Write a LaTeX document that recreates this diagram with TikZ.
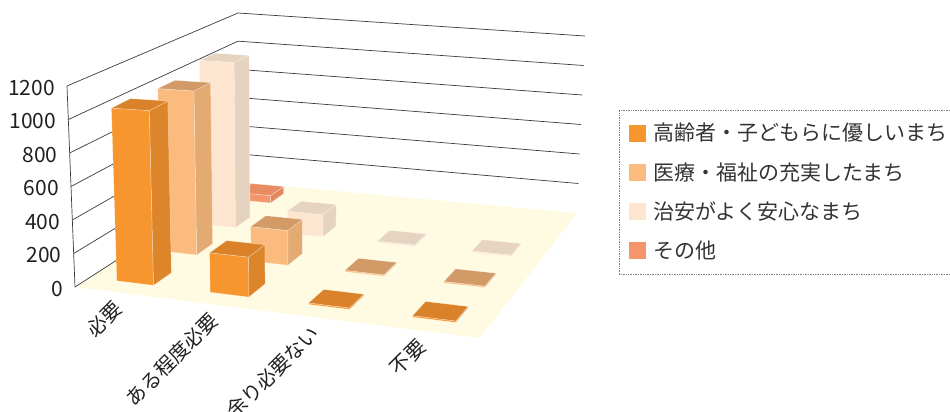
\documentclass[tikz,border=0pt]{standalone}
\usepackage{fontspec}
\setmainfont{Noto Sans CJK JP}
\usetikzlibrary{positioning,calc}

\definecolor{floorc}{HTML}{FFFBE3}
\definecolor{wallc}{HTML}{3A3A3A}
\definecolor{txt}{HTML}{231F20}
\definecolor{front1}{HTML}{F7962F}\definecolor{side1}{HTML}{DD852B}\definecolor{top1}{HTML}{D9822A}
\definecolor{front2}{HTML}{FBBB7E}\definecolor{side2}{HTML}{E3AB72}\definecolor{top2}{HTML}{D19A66}
\definecolor{front3}{HTML}{FEE5CF}\definecolor{side3}{HTML}{E5D2BF}\definecolor{top3}{HTML}{E6D3C0}
\definecolor{front4}{HTML}{F5956C}\definecolor{side4}{HTML}{E2875F}\definecolor{top4}{HTML}{E98B63}

% point of the floor (u,v) lifted by a value h, gives \px,\py
\newcommand\proj[3]{%
  \pgfmathsetmacro\pw{1-0.10431*(#1)+0.22454*(#2)}%
  \pgfmathsetmacro\px{(354.93*(#1)+216.44*(#2)+75)/\pw+(#3)/1200*(-8*(1-(#1))*(1-(#2))+7*(#1)*(1-(#2))+8*(#1)*(#2))}%
  \pgfmathsetmacro\py{(15.74*(#1)-64.13*(#2)+287)/\pw-(#3)/1200*(201*(1-(#1))*(1-(#2))+225*(#1)*(1-(#2))+177*(#1)*(#2)+169*(1-(#1))*(#2))}%
}
\newcommand\pc[4]{\proj{#2}{#3}{#4}\coordinate (#1) at (\px,\py);}

\begin{document}
\begin{tikzpicture}[x=1pt,y=-1pt,
    every node/.style={font=\fontsize{21}{24}\selectfont,text=txt,inner sep=0pt},
    face/.style={draw=white,draw opacity=.45,line width=.5pt,line join=round},
    grid/.style={wallc,line width=.7pt}]
  \useasboundingbox (0,0) rectangle (950,412);

  % floor
  \pc{f1}{0}{0}{0} \pc{f2}{1}{0}{0} \pc{f3}{1}{1}{0} \pc{f4}{0}{1}{0}
  \fill[floorc] (f1) -- (f2) -- (f3) -- (f4) -- cycle;

  % walls and value axis
  \foreach \lev in {0,200,...,1200}{
    \pc{l\lev}{0}{0}{\lev} \pc{b\lev}{0}{1}{\lev} \pc{r\lev}{1}{1}{\lev}
    \draw[grid] (l\lev) -- (b\lev);
    \ifnum\lev>0 \draw[grid] (b\lev) -- (r\lev); \fi
    \node[anchor=east] (y\lev) at ($(l\lev)+(-12,2)$) {\lev};
  }
  \draw[grid] (l0) -- (l1200);

  % bars, back row first
  \foreach \ser/\cat/\val in {4/1/50, 3/1/1070, 3/2/140, 3/3/8, 3/4/8,
      2/1/1015, 2/2/210, 2/3/8, 2/4/8, 1/1/1035, 1/2/230, 1/3/8, 1/4/8}{
    \pgfmathsetmacro\ua{(\cat-.5)/4-.05}
    \pgfmathsetmacro\ub{(\cat-.5)/4+.05}
    \pgfmathsetmacro\va{(\ser-.5)/4-.05}
    \pgfmathsetmacro\vb{(\ser-.5)/4+.05}
    \pc{A}{\ua}{\va}{0} \pc{B}{\ub}{\va}{0} \pc{C}{\ub}{\vb}{0}
    \pc{D}{\ua}{\va}{\val} \pc{E}{\ub}{\va}{\val}
    \pc{F}{\ub}{\vb}{\val} \pc{G}{\ua}{\vb}{\val}
    \filldraw[face,fill=front\ser] (A) -- (B) -- (E) -- (D) -- cycle;
    \filldraw[face,fill=side\ser] (B) -- (C) -- (F) -- (E) -- cycle;
    \filldraw[face,fill=top\ser] (D) -- (E) -- (F) -- (G) -- cycle;
  }

  % categories
  \foreach \cat/\txt in {1/必要,2/ある程度必要,3/余り必要ない,4/不要}{
    \pc{c\cat}{(\cat-.5)/4}{0}{0}
    \node[font=\fontsize{20}{24}\selectfont,rotate=45,anchor=east] (cat\cat) at ($(c\cat)+(-2,12)$) {\txt};
  }

  % legend
  \node[draw=gray,densely dotted,line width=.7pt,anchor=north west,
    minimum width=345pt,minimum height=164pt] (legend) at (619,110) {};
  \foreach \ser/\txt in {1/高齢者・子どもらに優しいまち,2/医療・福祉の充実したまち,
      3/治安がよく安心なまち,4/その他}{
    \node[fill=front\ser,minimum size=17pt] (key\ser) at (637.5,{133+39.3*(\ser-1)}) {};
    \node[right=7pt of key\ser,text=black!80] (lab\ser) {\txt};
  }
\end{tikzpicture}
\end{document}
